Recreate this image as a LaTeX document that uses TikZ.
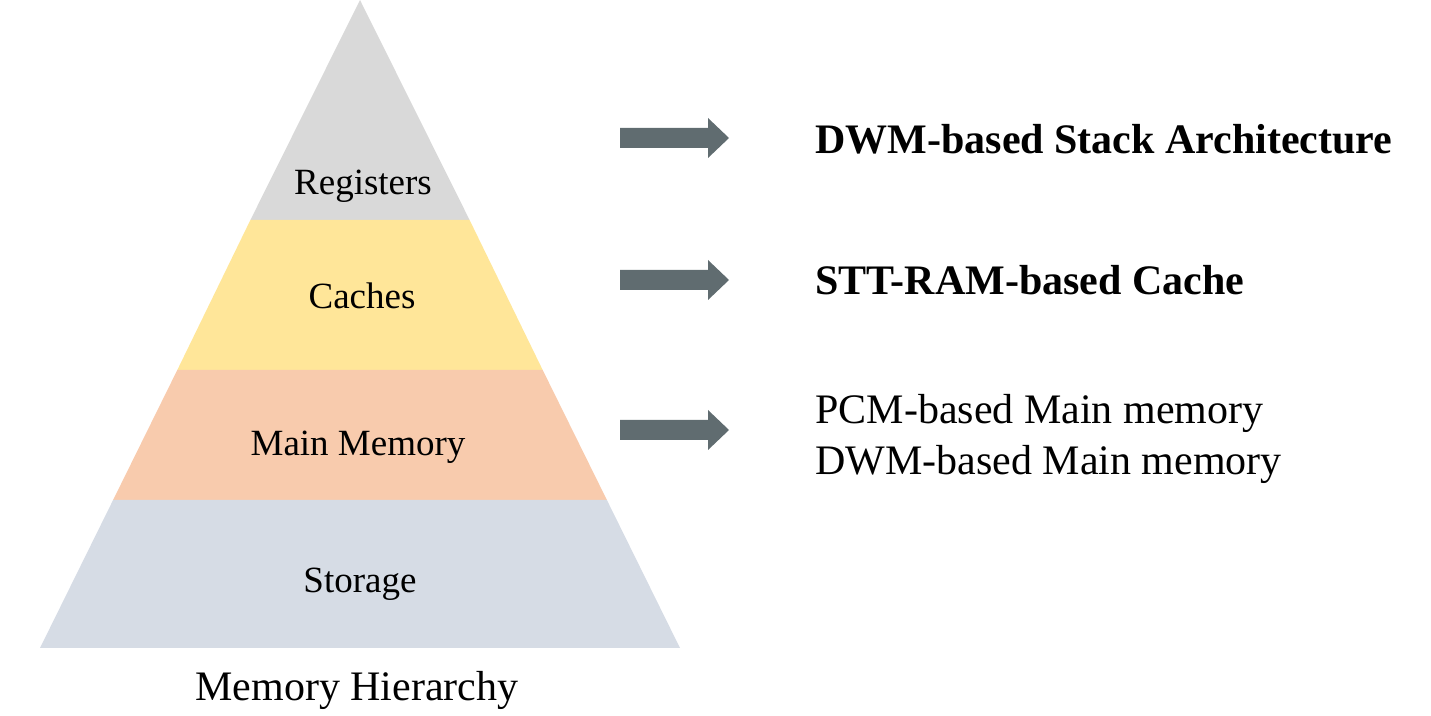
\documentclass[tikz,border=0pt]{standalone}
\usepackage{fontspec}
\setmainfont{Liberation Serif}
\definecolor{regfill}{HTML}{D9D9D9}
\definecolor{cachefill}{HTML}{FFE699}
\definecolor{memfill}{HTML}{F8CBAD}
\definecolor{storfill}{HTML}{D6DCE5}
\definecolor{arrowgray}{HTML}{606C70}
\begin{document}
\begin{tikzpicture}[x=0.5pt,y=-0.5pt,
  layer/.style={draw=none},
  layerlabel/.style={anchor=base,inner sep=0pt,font=\fontsize{18.5}{22}\selectfont},
  sidelabel/.style={anchor=base west,inner sep=0pt,font=\fontsize{21}{25}\selectfont},
  blockarrow/.style={fill=arrowgray,draw=none}]
\useasboundingbox (0,0) rectangle (1431,716);
% pyramid layers (apex at 360,0; base 40..680 at y=648)
\fill[regfill]   (360,0) -- (469.6,220) -- (250.4,220) -- cycle;
\fill[cachefill] (250.4,220) -- (469.6,220) -- (542.7,370) -- (177.3,370) -- cycle;
\fill[memfill]   (177.3,370) -- (542.7,370) -- (606.9,500) -- (113.1,500) -- cycle;
\fill[storfill]  (113.1,500) -- (606.9,500) -- (680,648) -- (40,648) -- cycle;
% layer labels
\node[layerlabel] (reg)  at (363,195) {Registers};
\node[layerlabel] (cac)  at (362,309) {Caches};
\node[layerlabel] (mem)  at (358,456) {Main Memory};
\node[layerlabel] (sto)  at (360,593) {Storage};
\node[anchor=base,inner sep=0pt,font=\fontsize{21}{25}\selectfont] (title) at (357,701) {Memory Hierarchy};
% block arrows
\foreach \yc/\nm in {138/a1,280/a2,430/a3}{
  \fill[blockarrow] (620,\yc-10) -- (708,\yc-10) -- (708,\yc-20) -- (729,\yc)
     -- (708,\yc+20) -- (708,\yc+10) -- (620,\yc+10) -- cycle;
  \coordinate (\nm) at (729,\yc);
}
% technologies
\node[sidelabel,font=\fontsize{21}{25}\selectfont\bfseries] (stack) at (815,154) {DWM-based Stack Architecture};
\node[sidelabel,font=\fontsize{21}{25}\selectfont\bfseries] (stt) at (815,295) {STT-RAM-based Cache};
\node[sidelabel] (pcm) at (815,424) {PCM-based Main memory};
\node[sidelabel] (dwm) at (815,475) {DWM-based Main memory};
\end{tikzpicture}
\end{document}
